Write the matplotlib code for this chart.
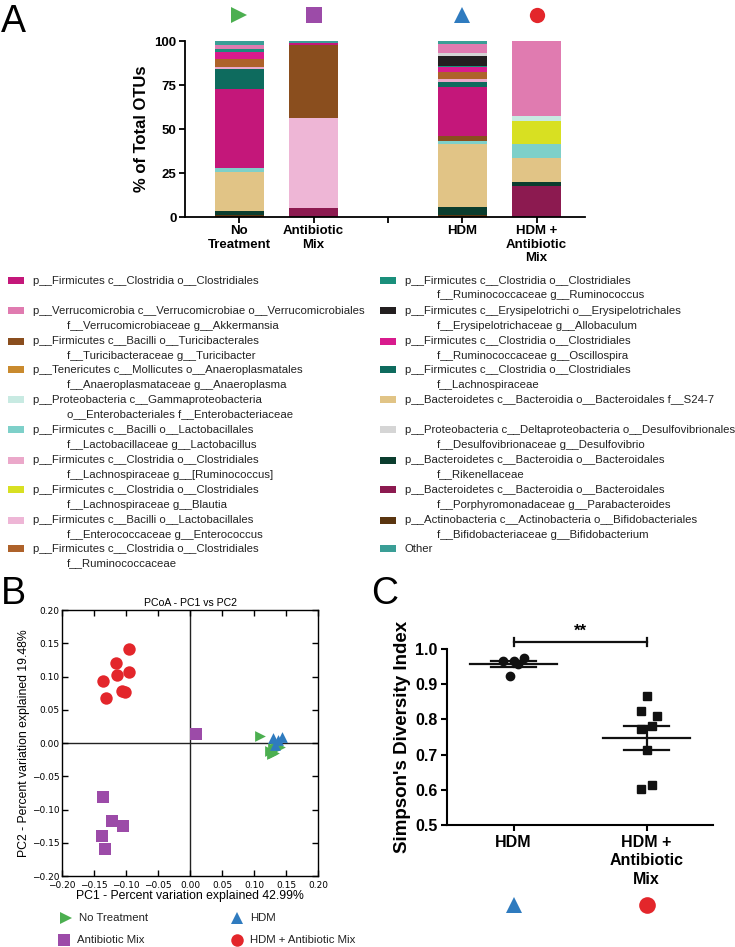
import numpy as np
import matplotlib
matplotlib.use("Agg")
import matplotlib.pyplot as plt
from matplotlib.patches import Rectangle

plt.rcParams['font.family'] = ['Liberation Sans', 'DejaVu Sans']

W, H = 735, 947

# ---------------- Data ----------------
groups_A = ["No\nTreatment", "Antibiotic\nMix", "", "HDM", "HDM +\nAntibiotic\nMix"]
group_positions_A = [0, 1, 3, 4]

taxa_line1 = [
    "p__Firmicutes c__Clostridia o__Clostridiales",
    "p__Verrucomicrobia c__Verrucomicrobiae o__Verrucomicrobiales",
    "p__Firmicutes c__Bacilli o__Turicibacterales",
    "p__Tenericutes c__Mollicutes o__Anaeroplasmatales",
    "p__Proteobacteria c__Gammaproteobacteria",
    "p__Firmicutes c__Bacilli o__Lactobacillales",
    "p__Firmicutes c__Clostridia o__Clostridiales",
    "p__Firmicutes c__Clostridia o__Clostridiales",
    "p__Firmicutes c__Bacilli o__Lactobacillales",
    "p__Firmicutes c__Clostridia o__Clostridiales",
    "p__Firmicutes c__Clostridia o__Clostridiales",
    "p__Firmicutes c__Erysipelotrichi o__Erysipelotrichales",
    "p__Firmicutes c__Clostridia o__Clostridiales",
    "p__Firmicutes c__Clostridia o__Clostridiales",
    "p__Bacteroidetes c__Bacteroidia o__Bacteroidales f__S24-7",
    "p__Proteobacteria c__Deltaproteobacteria o__Desulfovibrionales",
    "p__Bacteroidetes c__Bacteroidia o__Bacteroidales",
    "p__Bacteroidetes c__Bacteroidia o__Bacteroidales",
    "p__Actinobacteria c__Actinobacteria o__Bifidobacteriales",
    "Other",
]
taxa_line2 = [
    "",
    "f__Verrucomicrobiaceae g__Akkermansia",
    "f__Turicibacteraceae g__Turicibacter",
    "f__Anaeroplasmataceae g__Anaeroplasma",
    "o__Enterobacteriales f__Enterobacteriaceae",
    "f__Lactobacillaceae g__Lactobacillus",
    "f__Lachnospiraceae g__[Ruminococcus]",
    "f__Lachnospiraceae g__Blautia",
    "f__Enterococcaceae g__Enterococcus",
    "f__Ruminococcaceae",
    "f__Ruminococcaceae g__Ruminococcus",
    "f__Erysipelotrichaceae g__Allobaculum",
    "f__Ruminococcaceae g__Oscillospira",
    "f__Lachnospiraceae",
    "",
    "f__Desulfovibrionaceae g__Desulfovibrio",
    "f__Rikenellaceae",
    "f__Porphyromonadaceae g__Parabacteroides",
    "f__Bifidobacteriaceae g__Bifidobacterium",
    "",
]
taxa_colors = [
    "#C4177A", "#E07BB0", "#8A4E1E", "#C98A2E", "#C8EAE2",
    "#7ED0C9", "#EBA8CA", "#D8E022", "#EEB6D6", "#AE622A",
    "#1A8F7B", "#231F20", "#D81B8D", "#0E6B5E", "#E1C486",
    "#D5D5D5", "#0B3D2E", "#8C1A50", "#5A3510", "#3A9E96",
]
# stacking order, bottom to top (indices into the taxa lists)
stack_order = [17, 18, 16, 14, 5, 7, 8, 2, 0, 13, 6, 9, 3, 12, 10, 11, 4, 15, 1, 19]

# percentages per taxon (legend order) for each bar
no_treatment = [45, 2, 0, 0, 0, 2.5, 1, 0, 0, 4.5, 1.5, 0, 4.5, 11, 22, 0, 2.5, 0, 1, 2.5]
antibiotic_mix = [1, 0, 42, 0, 0, 0, 0, 0, 51, 0, 0, 0, 0, 0, 0, 0, 0, 5, 0, 1]
hdm = [28, 5.5, 3, 0, 0, 1.5, 2, 0, 0, 4, 1, 5.5, 2.5, 2.5, 36, 1.5, 4.5, 0, 1, 1.5]
hdm_antibiotic = [0, 42.6, 0, 0, 2.8, 7.8, 0, 13, 0, 0, 0, 0, 0, 0, 14, 0, 2.3, 17.5, 0, 0]

# PCoA coordinates
pc_no_treatment_x = [0.110, 0.125, 0.130, 0.135, 0.128, 0.132, 0.140]
pc_no_treatment_y = [0.010, -0.012, -0.008, -0.005, -0.017, -0.015, -0.006]
pc_antibiotic_x = [0.009, -0.136, -0.122, -0.105, -0.138, -0.133]
pc_antibiotic_y = [0.0135, -0.0815, -0.118, -0.125, -0.140, -0.160]
pc_hdm_x = [0.130, 0.144, 0.137, 0.133]
pc_hdm_y = [0.007, 0.009, 0.004, -0.003]
pc_hdm_ab_x = [-0.095, -0.115, -0.095, -0.114, -0.136, -0.106, -0.102, -0.132]
pc_hdm_ab_y = [0.141, 0.121, 0.1075, 0.1025, 0.0925, 0.0785, 0.076, 0.0675]

# Simpson's diversity
simpson_groups = ["HDM", "HDM +\nAntibiotic\nMix"]
simpson_hdm = [0.965, 0.965, 0.974, 0.957, 0.924]
simpson_hdm_ab = [0.866, 0.823, 0.811, 0.773, 0.782, 0.712, 0.615, 0.602]
jitter_hdm = [-0.08, 0.0, 0.08, 0.035, -0.03]
jitter_hdm_ab = [0.0, -0.04, 0.08, -0.04, 0.04, 0.0, 0.04, -0.04]

# ---------------- Figure ----------------
fig = plt.figure(figsize=(W / 100, H / 100), dpi=100)


def ax_px(l, t, r, b):
    return fig.add_axes([l / W, 1 - b / H, (r - l) / W, (b - t) / H])


def fx(x):
    return x / W


def fy(y):
    return 1 - y / H


# ---------- Panel A ----------
axA = ax_px(185, 41, 585, 217)
bars = [no_treatment, antibiotic_mix, hdm, hdm_antibiotic]
for pos, vals in zip(group_positions_A, bars):
    bottom = 0
    for idx in stack_order:
        v = vals[idx]
        if v > 0:
            axA.bar(pos, v, bottom=bottom, width=0.66, color=taxa_colors[idx],
                    edgecolor='none', linewidth=0)
            bottom += v
axA.set_xlim(-0.73, 4.65)
axA.set_ylim(0, 100)
axA.set_yticks([0, 25, 50, 75, 100])
axA.set_yticklabels(["0", "25", "50", "75", "100"], fontsize=9.5, fontweight='bold')
axA.set_xticks(range(5))
axA.set_xticklabels(groups_A, fontsize=9.5, fontweight='bold', linespacing=1.15)
axA.set_ylabel("% of Total OTUs", fontsize=12, fontweight='bold', labelpad=4)
for s in ['top', 'right']:
    axA.spines[s].set_visible(False)
for s in ['left', 'bottom']:
    axA.spines[s].set_linewidth(1.3)
axA.tick_params(axis='both', width=1.3, length=4, direction='out', pad=2)
axA.patch.set_alpha(0)

marker_styles = [('>', '#4CAF50'), ('s', '#9C4BA8'), ('^', '#2F7BBF'), ('o', '#E3262B')]
for pos, (m, c) in zip(group_positions_A, marker_styles):
    axA.plot(pos, 114.5, marker=m, color=c, markersize=11, clip_on=False,
             markeredgewidth=0, linestyle='none')

fig.text(fx(1), fy(22), "A", fontsize=27, va='center', ha='left')

# ---------- Legend of panel A ----------
legend_rows_y = [281, 311, 341, 370, 400, 430, 460, 490, 520, 549]
for i in range(20):
    col = i // 10
    row = i % 10
    y0 = legend_rows_y[row]
    sx = 8 if col == 0 else 380
    tx = 33 if col == 0 else 405
    ix = 67 if col == 0 else 437
    fig.patches.append(Rectangle((fx(sx), fy(y0 + 3.5)), 16 / W, 7 / H,
                                 transform=fig.transFigure, color=taxa_colors[i],
                                 linewidth=0))
    fig.text(fx(tx), fy(y0), taxa_line1[i], fontsize=8.2, va='center', ha='left',
             color='#222222')
    if taxa_line2[i]:
        fig.text(fx(ix), fy(y0 + 14.5), taxa_line2[i], fontsize=8.2, va='center',
                 ha='left', color='#222222')

# ---------- Panel B ----------
axB = ax_px(62, 610, 318, 876)
axB.scatter(pc_hdm_ab_x, pc_hdm_ab_y, marker='o', s=80, color='#E3262B', zorder=3, linewidths=0)
axB.scatter(pc_antibiotic_x, pc_antibiotic_y, marker='s', s=75, color='#9C4BA8', zorder=3, linewidths=0)
axB.scatter(pc_no_treatment_x, pc_no_treatment_y, marker='>', s=60, color='#4CAF50', zorder=3, linewidths=0)
axB.scatter(pc_hdm_x, pc_hdm_y, marker='^', s=60, color='#2F7BBF', zorder=3, linewidths=0)
axB.axhline(0, color='#222222', linewidth=1, zorder=1)
axB.axvline(0, color='#222222', linewidth=1, zorder=1)
axB.set_xlim(-0.2, 0.2)
axB.set_ylim(-0.2, 0.2)
ticksB = np.arange(-0.20, 0.201, 0.05)
tick_labels_B = [f"{t:.2f}".replace("-", "\u2212") if abs(t) > 1e-9 else "0.00" for t in ticksB]
axB.set_xticks(ticksB)
axB.set_yticks(ticksB)
axB.set_xticklabels(tick_labels_B, fontsize=6.5, fontfamily='DejaVu Sans')
axB.set_yticklabels(tick_labels_B, fontsize=6.5, fontfamily='DejaVu Sans')
axB.tick_params(axis='both', direction='in', length=4, width=1, top=True, right=True, pad=2)
axB.tick_params(axis='x', pad=3.5)
for s in axB.spines.values():
    s.set_linewidth(1)
axB.set_title("PCoA - PC1 vs PC2", fontsize=7.6, pad=3)
axB.set_xlabel("PC1 - Percent variation explained 42.99%", fontsize=8.8, labelpad=0)
axB.set_ylabel("PC2 - Percent variation explained 19.48%", fontsize=8.8, labelpad=1)

fig.text(fx(1), fy(594), "B", fontsize=27, va='center', ha='left')

# legend under B
legB = [("No Treatment", '>', '#4CAF50', 66, 918),
        ("HDM", '^', '#2F7BBF', 237, 918),
        ("Antibiotic Mix", 's', '#9C4BA8', 64, 940),
        ("HDM + Antibiotic Mix", 'o', '#E3262B', 237, 940)]
axL = fig.add_axes([0, 0, 1, 1])
axL.set_xlim(0, W)
axL.set_ylim(H, 0)
axL.axis('off')
for lab, m, c, x, y in legB:
    axL.plot(x, y, marker=m, color=c, markersize=9, markeredgewidth=0, linestyle='none')
    fig.text(fx(x + 13), fy(y), lab, fontsize=8.2, va='center', ha='left', color='#222222')

# ---------- Panel C ----------
axC = ax_px(447, 649, 713, 825)
m1, m2 = np.mean(simpson_hdm), np.mean(simpson_hdm_ab)
e1 = np.std(simpson_hdm, ddof=1) / np.sqrt(len(simpson_hdm))
e2 = np.std(simpson_hdm_ab, ddof=1) / np.sqrt(len(simpson_hdm_ab))
axC.plot(np.array(jitter_hdm) + 0, simpson_hdm, 'o', color='#111111', markersize=6, zorder=3)
axC.plot(np.array(jitter_hdm_ab) + 1, simpson_hdm_ab, 's', color='#111111', markersize=5.5, zorder=3)
for x, m, e in [(0, m1, e1), (1, m2, e2)]:
    axC.plot([x - 0.33, x + 0.33], [m, m], color='#111111', lw=1.6, zorder=4)
    axC.plot([x - 0.17, x + 0.17], [m + e, m + e], color='#111111', lw=1.6, zorder=4)
    axC.plot([x - 0.17, x + 0.17], [m - e, m - e], color='#111111', lw=1.6, zorder=4)
    axC.plot([x, x], [m - e, m + e], color='#111111', lw=1.6, zorder=4)
axC.set_xlim(-0.5, 1.5)
axC.set_ylim(0.5, 1.0)
axC.set_yticks([0.5, 0.6, 0.7, 0.8, 0.9, 1.0])
axC.set_yticklabels(["0.5", "0.6", "0.7", "0.8", "0.9", "1.0"], fontsize=11.5, fontweight='bold')
axC.set_xticks([0, 1])
axC.set_xticklabels(simpson_groups, fontsize=11.5, fontweight='bold', linespacing=1.3)
axC.set_ylabel("Simpson's Diversity Index", fontsize=13.5, fontweight='bold', labelpad=3)
for s in ['top', 'right']:
    axC.spines[s].set_visible(False)
for s in ['left', 'bottom']:
    axC.spines[s].set_linewidth(1.5)
axC.tick_params(axis='both', width=1.5, length=4, direction='out', pad=3)
axC.patch.set_alpha(0)
# significance bracket
yb = 1.02
axC.plot([0, 1], [yb, yb], color='#111111', lw=1.6, clip_on=False)
axC.plot([0, 0], [yb - 0.012, yb + 0.012], color='#111111', lw=1.6, clip_on=False)
axC.plot([1, 1], [yb - 0.012, yb + 0.012], color='#111111', lw=1.6, clip_on=False)
axC.text(0.5, yb + 0.008, "**", ha='center', va='bottom', fontsize=12, fontweight='bold')
axC.plot(0, 0.272, '^', color='#2F7BBF', markersize=12, clip_on=False, markeredgewidth=0)
axC.plot(1, 0.272, 'o', color='#E3262B', markersize=12, clip_on=False, markeredgewidth=0)

fig.text(fx(371), fy(594), "C", fontsize=27, va='center', ha='left')

fig.savefig("out.png", dpi=100)
